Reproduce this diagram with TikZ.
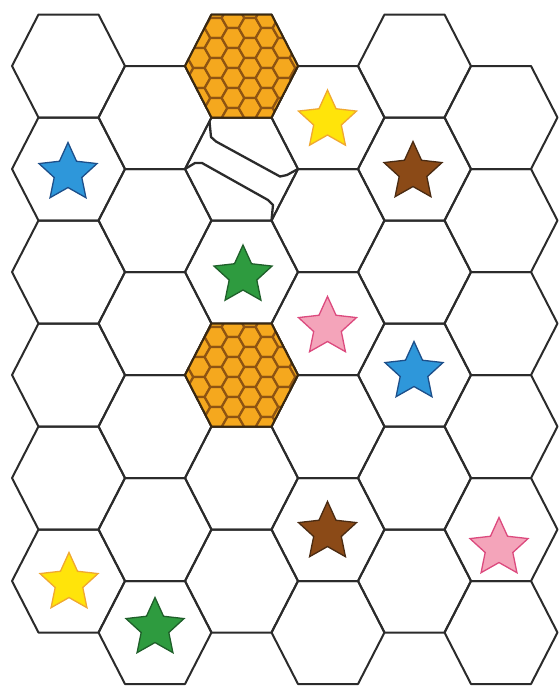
\documentclass[tikz,border=0pt]{standalone}
\usetikzlibrary{shapes.geometric}
\definecolor{gridcol}{HTML}{2B2B2B}
\definecolor{honeybg}{HTML}{B8821E}
\definecolor{honeycell}{HTML}{F5A81E}
\definecolor{honeyline}{HTML}{8E5412}
\definecolor{honeyedge}{HTML}{3A2810}
\definecolor{bluef}{HTML}{2E97DA}\definecolor{bluel}{HTML}{1D4F8A}
\definecolor{yellowf}{HTML}{FFE40A}\definecolor{yellowl}{HTML}{F0A830}
\definecolor{brownf}{HTML}{8B4A17}\definecolor{brownl}{HTML}{4A2B12}
\definecolor{greenf}{HTML}{2E9B3F}\definecolor{greenl}{HTML}{1F5F2A}
\definecolor{pinkf}{HTML}{F4A4BA}\definecolor{pinkl}{HTML}{DC4A7E}
\newcommand\myhex[2]{(#1-56.5,#2) -- (#1-30,#2-51.5) -- (#1+30,#2-51.5) -- (#1+56.5,#2) -- (#1+30,#2+51.5) -- (#1-30,#2+51.5) -- cycle}
\newcommand\mycell[2]{(#1-11.33,#2) -- (#1-5.67,#2-10) -- (#1+5.67,#2-10) -- (#1+11.33,#2) -- (#1+5.67,#2+10) -- (#1-5.67,#2+10) -- cycle}
\newcommand\myhoney[2]{%
  \begin{scope}
    \clip \myhex{#1}{#2};
    \fill[honeybg] \myhex{#1}{#2};
    \foreach \i in {-4,...,4} {
      \foreach \j in {-4,...,4} {
        \pgfmathsetmacro\hx{#1+8.5+17*\i}
        \pgfmathsetmacro\hy{#2+2+20*\j+10*mod(\i+10,2)}
        \filldraw[honeycellstyle] \mycell{\hx}{\hy};
      }
    }
  \end{scope}
  \draw[honeyedgestyle] \myhex{#1}{#2};}
\begin{document}
\begin{tikzpicture}[x=1pt,y=-1pt,
  gridstyle/.style={draw=gridcol,line width=2pt,line join=round},
  honeycellstyle/.style={fill=honeycell,draw=honeyline,line width=2.2pt},
  honeyedgestyle/.style={draw=honeyedge,line width=2pt,line join=round},
  crackstyle/.style={draw=gridcol,line width=2.3pt,line join=round},
  starshape/.style={star,star points=5,star point ratio=2.1,minimum size=61pt,inner sep=0pt,line width=1.3pt},
  bluestar/.style={starshape,fill=bluef,draw=bluel},
  yellowstar/.style={starshape,fill=yellowf,draw=yellowl},
  brownstar/.style={starshape,fill=brownf,draw=brownl},
  greenstar/.style={starshape,fill=greenf,draw=greenl},
  pinkstar/.style={starshape,fill=pinkf,draw=pinkl}]
\useasboundingbox (0,0) rectangle (560,686);
\fill[white] (0,0) rectangle (560,686);
% hex grid
\foreach \c in {0,...,5} {
  \pgfmathsetmacro\cx{68.5+86.5*\c}
  \pgfmathsetmacro\oy{66+51.5*mod(\c,2)}
  \foreach \r in {0,...,5} {
    \pgfmathsetmacro\cy{\oy+103*\r}
    \draw[gridstyle] \myhex{\cx}{\cy};
  }
}
% honeycomb tiles
\myhoney{241.5}{66}
\myhoney{241.5}{375}
% cracked tile
\draw[crackstyle] (209.5,121.5) -- (211,137) -- (216,141.5) -- (280,176.5) -- (287,175) -- (298,169);
\draw[crackstyle] (185,169) -- (195,163) -- (202,163) -- (268,200) -- (273,205) -- (271.5,220.5);
% stars
\node[bluestar] (s1) at (68,173) {};
\node[yellowstar] (s2) at (327.5,120.5) {};
\node[brownstar] (s3) at (413,172) {};
\node[greenstar] (s4) at (243,275.5) {};
\node[pinkstar] (s5) at (327.5,327) {};
\node[bluestar] (s6) at (414,372) {};
\node[brownstar] (s7) at (327.5,532) {};
\node[pinkstar] (s8) at (499,548) {};
\node[yellowstar] (s9) at (69,583) {};
\node[greenstar] (s10) at (155,628) {};
\end{tikzpicture}
\end{document}
